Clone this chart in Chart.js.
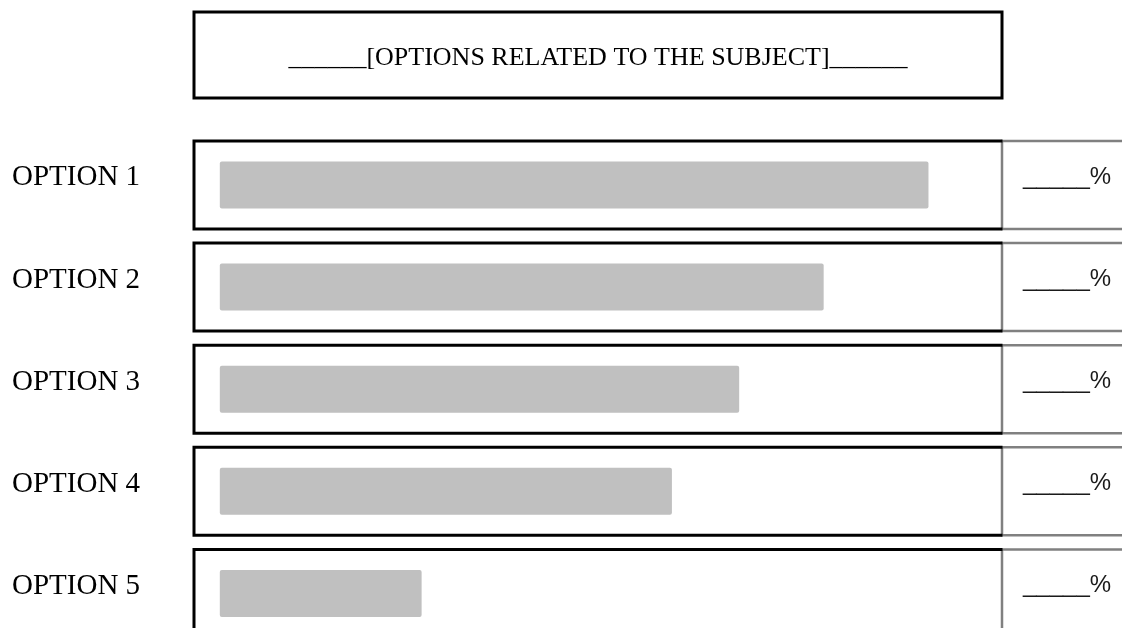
<!DOCTYPE html>
<html>
<head>
<meta charset="utf-8">
<script src="https://cdn.jsdelivr.net/npm/chart.js"></script>
<style>
  html, body { margin: 0; padding: 0; background: #fff; overflow: hidden; }
  #grafico { display: block; }
</style>
</head>
<body>
<canvas id="grafico" width="1122" height="680"></canvas>
<script>
const categorias = ['OPTION 1', 'OPTION 2', 'OPTION 3', 'OPTION 4', 'OPTION 5'];
const valores = [90.6, 77.2, 66.4, 57.8, 25.8];
const etiquetasPct = ['_____%', '_____%', '_____%', '_____%', '_____%'];
const titulo = '______[OPTIONS RELATED TO THE SUBJECT]______';

// cajas alrededor del titulo y de cada fila
const cajas = {
  id: 'cajas',
  beforeDatasetsDraw(chart) {
    const ctx = chart.ctx;
    const area = chart.chartArea;
    const y = chart.scales.y;
    const mitad = 44;
    ctx.save();
    ctx.lineCap = 'square';
    categorias.forEach((c, i) => {
      const yc = y.getPixelForValue(i);
      const arriba = yc - mitad, abajo = yc + mitad;
      // celda derecha en gris
      ctx.strokeStyle = '#808080';
      ctx.lineWidth = 2.5;
      ctx.beginPath();
      ctx.moveTo(area.right, arriba); ctx.lineTo(chart.width, arriba);
      ctx.moveTo(area.right, abajo); ctx.lineTo(chart.width, abajo);
      ctx.moveTo(area.right, arriba); ctx.lineTo(area.right, abajo);
      ctx.stroke();
      // caja negra
      ctx.strokeStyle = '#000';
      ctx.lineWidth = 3;
      ctx.beginPath();
      ctx.moveTo(area.right - 1, arriba); ctx.lineTo(area.left, arriba);
      ctx.lineTo(area.left, abajo); ctx.lineTo(area.right - 1, abajo);
      ctx.stroke();
    });
    ctx.restore();
  },
  afterDraw(chart) {
    const ctx = chart.ctx;
    const area = chart.chartArea;
    const t = chart.titleBlock;
    ctx.save();
    ctx.strokeStyle = '#000';
    ctx.lineWidth = 3;
    ctx.strokeRect(area.left, t.top, area.right - area.left, 86);
    ctx.restore();
  }
};

new Chart(document.getElementById('grafico'), {
  type: 'bar',
  data: {
    labels: categorias,
    datasets: [{
      data: valores,
      backgroundColor: '#c0c0c0',
      borderWidth: 0,
      borderRadius: 2,
      borderSkipped: false,
      categoryPercentage: 1,
      barPercentage: 0.46
    }]
  },
  options: {
    indexAxis: 'y',
    responsive: false,
    animation: false,
    layout: { padding: { top: 12, left: 12, right: 0, bottom: 16 } },
    plugins: {
      legend: { display: false },
      tooltip: { enabled: false },
      title: {
        display: true,
        text: titulo,
        fullSize: false,
        color: '#000',
        font: { family: '"Liberation Serif", "Times New Roman", serif', size: 26, weight: 'normal', lineHeight: 1.2 },
        padding: { top: 30.6, bottom: 60 }
      }
    },
    scales: {
      x: {
        display: false,
        min: -3.3,
        max: 100
      },
      y: {
        position: 'left',
        grid: { display: false, drawTicks: false },
        border: { display: false },
        ticks: {
          crossAlign: 'far',
          padding: 0,
          labelOffset: -7,
          color: '#000',
          font: { family: '"Liberation Serif", "Times New Roman", serif', size: 29 }
        },
        afterFit(scale) { scale.width = 182; }
      },
      y2: {
        type: 'category',
        labels: etiquetasPct,
        position: 'right',
        offset: true,
        grid: { display: false, drawTicks: false },
        border: { display: false },
        ticks: {
          padding: 21,
          labelOffset: -8,
          color: '#1a1a1a',
          font: { family: '"Liberation Sans", Arial, sans-serif', size: 24 }
        },
        afterFit(scale) { scale.width = 120; }
      }
    }
  },
  plugins: [cajas]
});
</script>
</body>
</html>
